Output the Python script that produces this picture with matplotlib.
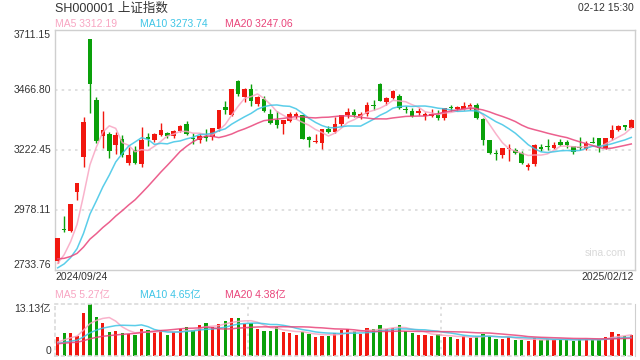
import matplotlib
matplotlib.use('Agg')
import matplotlib.pyplot as plt
import matplotlib.transforms as mtransforms
import numpy as np
import pandas as pd

plt.rcParams['font.family'] = ['Liberation Sans', 'Noto Sans CJK SC', 'DejaVu Sans']

# daily K-line, 2024/09/24 .. 2025/02/12
opens = [2770.75, 2899.62, 2893.37, 3049.42, 3195.0, 3674.40, 3426.0, 3279.0, 3287.0, 3244.0,
         3267.0, 3171.0, 3222.0, 3164.0, 3275.0, 3263.0, 3283.0, 3292.0, 3280.0, 3300.0,
         3327.0, 3270.0, 3262.0, 3280.0, 3277.0, 3308.0, 3396.0, 3365.0, 3503.0, 3437.0,
         3469.0, 3408.0, 3431.0, 3369.0, 3345.0, 3327.0, 3341.0, 3362.0, 3365.0, 3277.0,
         3254.0, 3252.0, 3307.0, 3297.0, 3328.0, 3365.0, 3376.0, 3360.0, 3370.0, 3404.0,
         3491.0, 3419.0, 3436.0, 3442.0, 3390.0, 3381.0, 3372.0, 3360.0, 3362.0, 3366.0,
         3351.0, 3393.5, 3390.0, 3390.0, 3394.0, 3405.0, 3349.0, 3262.0, 3210.0, 3202.0,
         3226.0, 3222.0, 3209.0, 3152.0, 3165.0, 3236.0, 3240.0, 3230.0, 3256.0, 3255.0,
         3237.0, 3232.0, 3226.0, 3256.0, 3270.0, 3229.0, 3270.0, 3305.0, 3323.0, 3313.0]
highs = [2863.13, 2952.44, 3000.95, 3087.53, 3358.59, 3674.40, 3437.0, 3381.0, 3297.0, 3294.0,
         3283.0, 3236.0, 3240.0, 3315.0, 3293.0, 3290.0, 3331.0, 3295.0, 3305.0, 3326.0,
         3342.0, 3290.0, 3290.0, 3306.0, 3311.0, 3387.0, 3422.0, 3471.0, 3509.0, 3473.0,
         3491.0, 3442.0, 3442.0, 3389.0, 3383.0, 3346.0, 3376.0, 3376.0, 3366.0, 3280.0,
         3286.0, 3309.0, 3320.0, 3358.0, 3367.0, 3392.0, 3388.0, 3378.0, 3419.0, 3426.0,
         3497.0, 3440.0, 3467.0, 3450.0, 3402.0, 3395.0, 3392.0, 3378.0, 3389.0, 3385.0,
         3394.0, 3405.0, 3403.0, 3419.0, 3412.0, 3415.0, 3351.0, 3264.0, 3222.0, 3231.0,
         3245.0, 3229.0, 3220.0, 3171.0, 3245.0, 3245.0, 3266.0, 3256.0, 3267.0, 3263.0,
         3239.0, 3274.0, 3259.0, 3274.0, 3272.0, 3272.0, 3324.0, 3326.0, 3324.0, 3347.0]
lows = [2762.0, 2889.05, 2889.48, 3020.0, 3155.0, 3374.0, 3250.0, 3229.0, 3188.0, 3206.0,
        3195.0, 3160.0, 3165.0, 3152.0, 3239.0, 3255.0, 3278.0, 3270.0, 3270.0, 3295.0,
        3283.0, 3247.0, 3252.0, 3259.0, 3263.0, 3300.0, 3368.0, 3360.0, 3444.0, 3416.0,
        3403.0, 3400.0, 3376.0, 3328.0, 3311.0, 3286.0, 3335.0, 3348.0, 3267.0, 3233.0,
        3252.0, 3226.0, 3290.0, 3290.0, 3320.0, 3351.0, 3355.0, 3350.0, 3360.0, 3385.0,
        3420.0, 3405.0, 3430.0, 3389.0, 3375.0, 3355.0, 3365.0, 3345.0, 3355.0, 3345.0,
        3345.0, 3380.0, 3383.0, 3385.0, 3387.0, 3349.0, 3243.0, 3205.0, 3180.0, 3190.0,
        3178.0, 3208.0, 3167.0, 3141.0, 3157.0, 3220.0, 3222.0, 3225.0, 3238.0, 3229.0,
        3206.0, 3222.0, 3224.0, 3250.0, 3216.0, 3226.0, 3264.0, 3298.0, 3303.0, 3311.0]
closes = [2863.13, 2896.31, 3000.95, 3087.53, 3336.50, 3489.78, 3258.86, 3301.93, 3217.74, 3284.32,
          3201.29, 3202.95, 3169.38, 3261.56, 3268.11, 3285.87, 3302.80, 3280.26, 3299.70, 3322.20,
          3286.41, 3266.24, 3279.82, 3272.01, 3310.21, 3386.99, 3383.81, 3470.66, 3452.30, 3470.07,
          3421.97, 3439.28, 3379.84, 3330.73, 3323.85, 3346.01, 3367.99, 3370.40, 3267.19, 3263.76,
          3259.76, 3309.78, 3295.70, 3326.46, 3363.98, 3378.81, 3364.65, 3368.86, 3404.08, 3402.53,
          3422.66, 3432.49, 3461.50, 3391.88, 3386.33, 3361.49, 3382.21, 3370.03, 3368.07, 3351.88,
          3393.53, 3393.35, 3398.08, 3400.14, 3407.33, 3351.76, 3262.56, 3211.43, 3206.92, 3229.64,
          3230.17, 3211.39, 3168.52, 3160.76, 3240.94, 3227.12, 3236.03, 3241.82, 3244.38, 3242.62,
          3213.62, 3230.16, 3252.63, 3250.60, 3229.49, 3270.66, 3303.67, 3322.17, 3318.06, 3346.39]
# volume, 亿
volumes = [4.80, 5.82, 5.82, 4.97, 10.92, 13.13, 9.90, 8.37, 6.08, 6.33,
           5.82, 5.40, 5.31, 6.76, 6.50, 5.82, 6.42, 5.31, 5.99, 6.67,
           7.35, 6.50, 7.78, 8.37, 7.35, 8.03, 8.80, 9.65, 9.65, 8.03,
           8.20, 6.84, 6.25, 6.25, 7.27, 5.99, 5.82, 5.23, 6.08, 5.57,
           4.80, 5.06, 5.06, 5.82, 6.50, 6.67, 6.25, 5.57, 7.01, 6.76,
           7.78, 6.67, 7.01, 7.78, 6.25, 5.74, 5.23, 5.23, 4.97, 5.40,
           4.80, 4.80, 4.29, 4.97, 4.55, 4.80, 5.48, 5.06, 4.21, 4.21,
           4.82, 3.95, 3.95, 3.70, 4.39, 3.95, 4.22, 4.04, 4.04, 4.04,
           3.70, 4.32, 4.23, 3.95, 3.95, 4.72, 5.99, 5.48, 4.97, 5.19]

# sessions before the window, only feed the moving averages
prior_closes = [2855.52, 2848.77, 2837.43, 2823.11, 2842.21, 2811.04, 2802.98, 2784.28, 2788.31, 2765.64,
                2736.49, 2744.19, 2721.80, 2717.12, 2704.09, 2717.28, 2736.02, 2736.81, 2748.92]
prior_volumes = [3.0, 2.9, 3.1, 3.4, 2.9, 2.8, 2.8, 2.7, 2.9, 2.8,
                 2.9, 2.8, 2.7, 2.6, 2.7, 2.9, 3.2, 2.8, 3.3]

price_ticks = [3711.15, 3466.80, 3222.45, 2978.11, 2733.76]
vol_max = 13.13
start_label, end_label = '2024/09/24', '2025/02/12'

RED = '#f1170f'
GREEN = '#0aa00a'
MA_COLORS = {5: '#f8a5c2', 10: '#3ec5e6', 20: '#e9447a'}
GRID = '#dadada'
BORDER = '#cfcfcf'
TXT = '#333333'

W, H = 640, 360
def box(l, t, r, b):
    return [l / W, 1 - b / H, (r - l) / W, (b - t) / H]
def fy(y):
    return 1 - y / H

n = len(closes)
x = np.arange(n)
o = np.array(opens); c = np.array(closes)
colors = [RED if cc >= oo else GREEN for oo, cc in zip(o, c)]

close_s = pd.Series(prior_closes + closes)
vol_s = pd.Series(prior_volumes + volumes)
k = len(prior_closes)
ma_price = {p: close_s.rolling(p).mean().values[k:] for p in (5, 10, 20)}
ma_vol = {p: vol_s.rolling(p).mean().values[k:] for p in (5, 10, 20)}

fig = plt.figure(figsize=(6.4, 3.6), dpi=100)
ax = fig.add_axes(box(54.5, 30, 634.5, 270))
vax = fig.add_axes(box(54.5, 304, 634.5, 355.5))

# --- price panel
ax.set_xlim(-0.5, n - 0.5)
ax.set_ylim(price_ticks[-1], price_ticks[0])
for t in price_ticks[1:-1]:
    ax.axhline(t, color=GRID, lw=1.2, ls=(0, (1.5, 2.5)), zorder=0)
ax.vlines(x, lows, highs, colors=colors, lw=1.0, zorder=2)
ax.bar(x, np.maximum(np.abs(c - o), 2.5), bottom=np.minimum(o, c), width=0.72,
       color=colors, lw=0, zorder=3)
for p in (5, 10, 20):
    ax.plot(x, ma_price[p], color=MA_COLORS[p], lw=1.1, alpha=0.85, zorder=4)
for s in ax.spines.values():
    s.set_color(BORDER)
    s.set_linewidth(1.0)
ax.set_xticks([]); ax.set_yticks([])
ax.text(0.95, 0.07, 'sina.com', transform=ax.transAxes, ha='center', va='center',
        fontsize=7.5, color='#d9d9d9')

tr = mtransforms.blended_transform_factory(ax.transAxes, ax.transData)
for i, t in enumerate(price_ticks):
    va = 'top' if i == 0 else ('bottom' if i == len(price_ticks) - 1 else 'center')
    ax.text(-0.006, t, f'{t:.2f}', transform=tr, ha='right', va=va, fontsize=7.5, color=TXT)

# --- volume panel
vax.set_xlim(-0.5, n - 0.5)
vax.set_ylim(0, vol_max)
vax.bar(x, volumes, width=0.5, color=colors, lw=0, zorder=2)
for p in (5, 10, 20):
    vax.plot(x, ma_vol[p], color=MA_COLORS[p], lw=1.1, alpha=0.85, zorder=3)
for frac in (1 / 3, 2 / 3):
    vax.axvline(-0.5 + n * frac, color=GRID, lw=1.2, ls=(0, (1.5, 2.5)), zorder=0)
vax.set_xticks([]); vax.set_yticks([])
for side in ('top', 'bottom', 'left'):
    vax.spines[side].set_color(GRID)
    vax.spines[side].set_linestyle((0, (1.5, 2.5)))
    vax.spines[side].set_linewidth(1.2)
vax.spines['right'].set_color(BORDER)
vtr = mtransforms.blended_transform_factory(vax.transAxes, vax.transData)
vax.text(-0.006, vol_max, f'{vol_max:.2f}亿', transform=vtr, ha='right', va='top',
         fontsize=7.5, color=TXT)
vax.text(-0.006, 0, '0', transform=vtr, ha='right', va='bottom', fontsize=7.5, color=TXT)

# --- header texts
fig.text(55 / W, fy(8.5), 'SH000001 上证指数', fontsize=9, color=TXT, va='center')
fig.text(634 / W, fy(8), '02-12 15:30', fontsize=7.5, color=TXT, va='center', ha='right')
leg_x = [55, 140.5, 225]
for xx, p in zip(leg_x, (5, 10, 20)):
    fig.text(xx / W, fy(24), f'MA{p} {ma_price[p][-1]:.2f}', fontsize=7.5,
             color=MA_COLORS[p], va='center')
    fig.text(xx / W, fy(295), f'MA{p} {ma_vol[p][-1]:.2f}亿', fontsize=7.5,
             color=MA_COLORS[p], va='center')
fig.text(55 / W, fy(277.5), start_label, fontsize=7.5, color=TXT, va='center')
fig.text(634 / W, fy(277.5), end_label, fontsize=7.5, color=TXT, va='center', ha='right')

fig.savefig('out.png', dpi=100)
